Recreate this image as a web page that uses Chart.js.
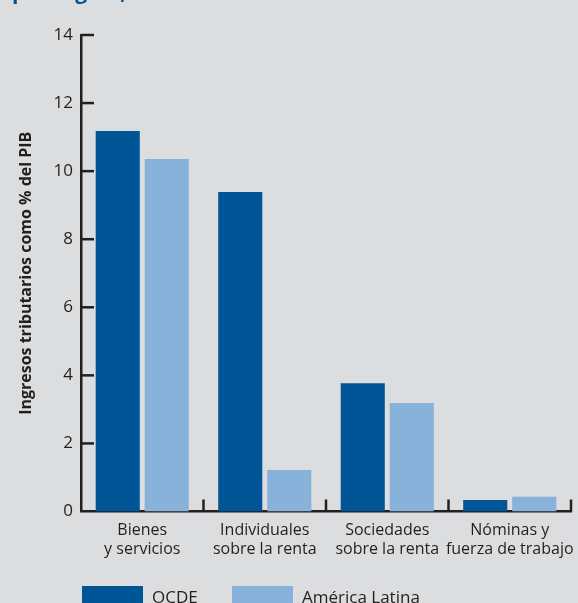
<!DOCTYPE html>
<html>
<head>
<meta charset="utf-8">
<script src="https://cdn.jsdelivr.net/npm/chart.js@4"></script>
<style>
  html, body { margin: 0; padding: 0; background: #dcdddf; overflow: hidden; }
  canvas { display: block; }
</style>
</head>
<body>
<canvas id="ingresos" width="578" height="603"></canvas>
<script>
// datos
var categorias = [
    ['Bienes', 'y servicios'],
    ['Individuales', 'sobre la renta'],
    ['Sociedades', 'sobre la renta'],
    ['Nóminas y', 'fuerza de trabajo']
];
var ocde = [11.18, 9.39, 3.77, 0.34];
var americaLatina = [10.36, 1.22, 3.19, 0.43];
var nombresSeries = ['OCDE', 'América Latina'];
var coloresSeries = ['#005596', '#88b2d9'];
var ejeMin = 0, ejeMax = 14, ejePaso = 2;

var tinta = '#231f20';
var fuente = '"Open Sans", sans-serif';

// marcas del eje hacia adentro, leyenda y titulo cortado
var decoracion = {
    id: 'decoracion',
    afterDraw: function (chart) {
        var ctx = chart.ctx;
        var area = chart.chartArea;
        var y = chart.scales.y;
        ctx.save();
        ctx.strokeStyle = tinta;
        ctx.lineWidth = 2.5;
        y.ticks.forEach(function (t) {
            if (t.value === 0) return;
            var py = y.getPixelForValue(t.value);
            ctx.beginPath();
            ctx.moveTo(area.left, py);
            ctx.lineTo(area.left + 13, py);
            ctx.stroke();
        });
        var n = categorias.length;
        for (var i = 1; i <= n; i++) {
            var px = area.left + i * (area.right - area.left) / n;
            ctx.beginPath();
            ctx.moveTo(px, area.bottom);
            ctx.lineTo(px, area.bottom - 12);
            ctx.stroke();
        }

        // leyenda
        var xs = [82, 232];
        ctx.font = '17px ' + fuente;
        ctx.textBaseline = 'alphabetic';
        chart.data.datasets.forEach(function (ds, k) {
            ctx.fillStyle = ds.backgroundColor;
            ctx.fillRect(xs[k], 586, 61, 22);
            ctx.fillStyle = tinta;
            ctx.fillText(ds.label, xs[k] + 70, 603);
        });

        // ultima linea del titulo, casi fuera del lienzo
        ctx.fillStyle = '#005596';
        ctx.font = 'bold 21px ' + fuente;
        ctx.fillText('por región,', 12, -1);
        ctx.restore();
    }
};

var config = {
    type: 'bar',
    data: {
        labels: categorias,
        datasets: [{
            label: nombresSeries[0],
            data: ocde,
            backgroundColor: coloresSeries[0],
            borderWidth: 0
        }, {
            label: nombresSeries[1],
            data: americaLatina,
            backgroundColor: coloresSeries[1],
            borderWidth: 0
        }]
    },
    options: {
        responsive: false,
        animation: false,
        devicePixelRatio: 1,
        categoryPercentage: 0.8,
        barPercentage: 0.9,
        layout: { padding: { top: 35, right: 7, left: 0, bottom: 0 } },
        plugins: {
            legend: { display: false },
            tooltip: { enabled: false }
        },
        scales: {
            x: {
                grid: { display: false, drawTicks: false },
                border: { color: tinta, width: 2.5 },
                ticks: {
                    color: tinta,
                    font: { family: fuente, size: 16 },
                    padding: 9,
                    maxRotation: 0,
                    autoSkip: false
                },
                afterFit: function (scale) {
                    scale.height = 91.5;
                    scale.paddingLeft = 0;
                    scale.paddingRight = 0;
                }
            },
            y: {
                min: ejeMin,
                max: ejeMax,
                grid: { display: false, drawTicks: false },
                border: { color: tinta, width: 2.5 },
                ticks: {
                    stepSize: ejePaso,
                    color: tinta,
                    font: { family: fuente, size: 17 },
                    padding: 8
                },
                title: {
                    display: true,
                    text: 'Ingresos tributarios como % del PIB',
                    color: tinta,
                    font: { family: fuente, size: 16, weight: 'bold' },
                    padding: { top: 17, bottom: 0 }
                },
                afterFit: function (scale) {
                    scale.width = 81;
                }
            }
        }
    },
    plugins: [decoracion]
};

window.ingresos = new Chart(document.getElementById('ingresos'), config);
</script>
</body>
</html>
